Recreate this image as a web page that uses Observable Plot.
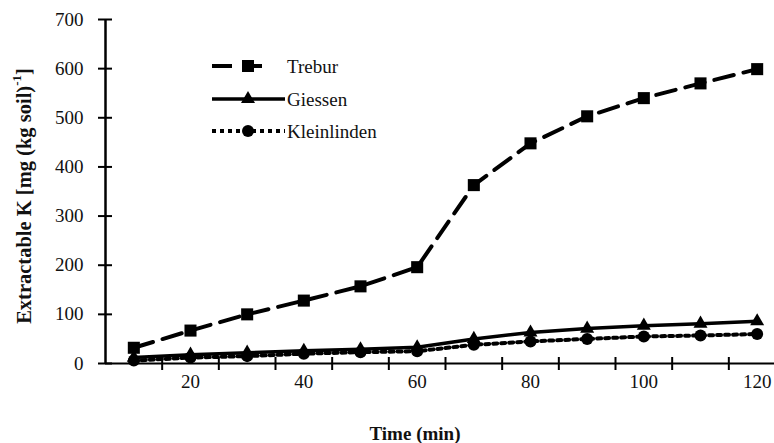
<!DOCTYPE html>
<html>
<head>
<meta charset="utf-8">
<script src="https://cdn.jsdelivr.net/npm/d3@7"></script>
<script src="https://cdn.jsdelivr.net/npm/@observablehq/plot@0.6"></script>
<style>
  html, body { margin: 0; padding: 0; background: #fff; }
  #wrap { position: relative; width: 774px; height: 443px; overflow: hidden; }
</style>
</head>
<body>
<div id="wrap"></div>
<script>
// ---- data ----
const time = [10, 20, 30, 40, 50, 60, 70, 80, 90, 100, 110, 120];
const trebur = [32, 67, 100, 128, 157, 196, 363, 448, 503, 540, 570, 599];
const giessen = [12, 18, 22, 26, 29, 33, 50, 63, 71, 77, 81, 86];
const kleinlinden = [6, 12, 15, 20, 23, 25, 38, 45, 50, 55, 57, 60];
const seriesNames = ["Trebur", "Giessen", "Kleinlinden"];
const yTicks = [0, 100, 200, 300, 400, 500, 600, 700];
const xLabels = [20, 40, 60, 80, 100, 120];
const xTickMarks = [15, 25, 35, 45, 55, 65, 75, 85, 95, 105, 115];
const xTitle = "Time (min)";
const yTitle = "Extractable K [mg (kg soil)";
const yTitleSup = "-1";

const FONT = "'Liberation Serif', 'Times New Roman', serif";
const rows = (vals) => time.map((t, i) => ({t, v: vals[i]}));
const T = rows(trebur), G = rows(giessen), K = rows(kleinlinden);

const chart = Plot.plot({
  width: 774,
  height: 443,
  marginLeft: 105,
  marginRight: 0,
  marginTop: 19,
  marginBottom: 80,
  x: {domain: [5, 125], range: [105, 785]},
  y: {domain: [0, 700]},
  style: {fontFamily: FONT, fontSize: "19px", color: "#111", background: "#fff", overflow: "hidden"},
  marks: [
    Plot.axisY(yTicks, {tickSize: 0, tickPadding: 22, label: null, fontSize: 19}),
    Plot.axisX(xLabels, {tickSize: 0, tickPadding: 11, label: null, fontSize: 19}),
    // axis lines
    Plot.ruleY([0], {stroke: "#000", strokeWidth: 2}),
    Plot.ruleX([5], {y1: 0, y2: 700, stroke: "#000", strokeWidth: 2.5}),
    // crossing tick marks
    Plot.ruleY(yTicks, {y: d => d, x1: 5, x2: 5, insetLeft: -7, insetRight: -7, stroke: "#000", strokeWidth: 2}),
    Plot.ruleX(xTickMarks, {x: d => d, y1: 0, y2: 0, insetTop: -6, insetBottom: -7, stroke: "#000", strokeWidth: 2}),
    // series
    Plot.line(T, {x: "t", y: "v", stroke: "#000", strokeWidth: 4, strokeDasharray: "20,10"}),
    Plot.line(G, {x: "t", y: "v", stroke: "#000", strokeWidth: 3.5}),
    Plot.line(K, {x: "t", y: "v", stroke: "#000", strokeWidth: 4, strokeDasharray: "4,4"}),
    Plot.dot(T, {x: "t", y: "v", symbol: "square", r: 6.8, fill: "#000", stroke: "none"}),
    Plot.dot(G, {x: "t", y: "v", symbol: "triangle", r: 5.2, fill: "#000", stroke: "none"}),
    Plot.dot(K, {x: "t", y: "v", symbol: "circle", r: 6, fill: "#000", stroke: "none"})
  ]
});

const wrap = document.getElementById("wrap");
wrap.appendChild(chart);

const svg = d3.select(chart);
// axis titles
const yt = svg.append("text")
  .attr("transform", "translate(24,196) rotate(-90)")
  .attr("text-anchor", "middle")
  .attr("dominant-baseline", "central")
  .attr("font-family", FONT)
  .attr("font-weight", "bold")
  .attr("font-size", 20.5)
  .attr("fill", "#111");
yt.append("tspan").text(yTitle);
yt.append("tspan").attr("baseline-shift", "super").attr("font-size", 13).text(yTitleSup);
yt.append("tspan").text("]");

svg.append("text")
  .attr("x", 415).attr("y", 433)
  .attr("text-anchor", "middle")
  .attr("dominant-baseline", "central")
  .attr("font-family", FONT)
  .attr("font-weight", "bold")
  .attr("font-size", 19)
  .attr("fill", "#111")
  .text(xTitle);

// legend (drawn inside plot area like the reference)
const leg = svg.append("g").attr("text-anchor", "start");
const rowsY = [66, 99, 131];
const styles = [
  {dash: "20,10", x2: 268, w: 4, sym: d3.symbolSquare, r: 6.8},
  {dash: null, x2: 285, w: 3.5, sym: d3.symbolTriangle, r: 5.2},
  {dash: "4,4", x2: 285, w: 4, sym: d3.symbolCircle, r: 6}
];
seriesNames.forEach((name, i) => {
  const s = styles[i], y = rowsY[i];
  const ln = leg.append("line").attr("x1", 212).attr("x2", s.x2).attr("y1", y).attr("y2", y)
    .attr("stroke", "#000").attr("stroke-width", s.w);
  if (s.dash) ln.attr("stroke-dasharray", s.dash);
  leg.append("path").attr("d", d3.symbol(s.sym, Math.PI * s.r * s.r)())
    .attr("transform", `translate(248,${y})`).attr("fill", "#000");
  leg.append("text").attr("x", 287).attr("y", y).attr("dominant-baseline", "central")
    .attr("text-anchor", "start")
    .attr("font-family", FONT).attr("font-size", 19).attr("fill", "#111").text(name);
});
</script>
</body>
</html>
